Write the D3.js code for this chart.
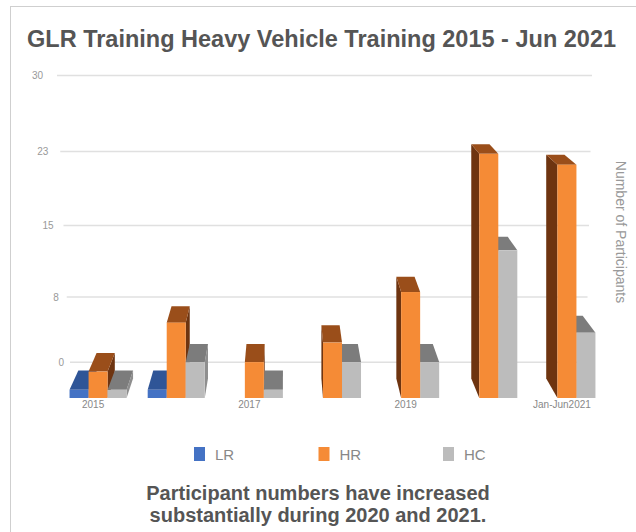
<!DOCTYPE html>
<html>
<head>
<meta charset="utf-8">
<script src="https://cdn.jsdelivr.net/npm/d3@7"></script>
<style>
  html, body { margin: 0; padding: 0; background: #fff; }
  svg { display: block; }
</style>
</head>
<body>
<div id="chart"></div>
<script>
// Data
const categories = ['2015', '2016', '2017', '2018', '2019', '2020', 'Jan-Jun2021']
const seriesNames = ['LR', 'HR', 'HC']
const lrValues = [1, 1, 0, 0, 0, 0, 0]
const hrValues = [3, 8, 4, 6, 11, 24, 23]
const hcValues = [1, 4, 1, 4, 4, 15, 7]
const yTicks = [0, 7.5, 15, 22.5, 30]
const xLabelTicks = ['2015', '2017', '2019', 'Jan-Jun2021']
const titleText = 'GLR Training Heavy Vehicle Training 2015 - Jun 2021'
const axisTitle = 'Number of Participants'
const footerLines = ['Participant numbers have increased', 'substantially during 2020 and 2021.']

// Const variables
const width = 636
const height = 532
const baseY = 398
const vanish = [284, -80]   // perspective vanishing point
const barDepth = 0.041
const wallDepth = 0.075
const fontFamily = 'Liberation Sans, Arial, sans-serif'
const colors = {
  LR: { front: '#4472c4', cap: '#2f5597', side: '#22407a' },
  HR: { front: '#f58b36', cap: '#9a4e1a', side: '#6e3410' },
  HC: { front: '#bcbcbc', cap: '#7c7c7c', side: '#8e8e8e' }
}
const valuesBySeries = { LR: lrValues, HR: hrValues, HC: hcValues }

// Scales
const y = d3.scalePow().exponent(1.07).domain([0, 30]).range([baseY, baseY - 310])
const x0 = d3.scaleBand().domain(categories).range([59, 606]).paddingInner(0.27).paddingOuter(0.135)
const x1 = d3.scaleBand().domain(seriesNames).range([0, x0.bandwidth()])
const gridStart = d3.scaleLinear().domain([0, 30]).range([70, 57])
const gridEnd = d3.scaleLinear().domain([0, 30]).range([586, 592])
const labelRight = d3.scaleLinear().domain([0, 30]).range([64, 43])

const project = (p, k) => [p[0] + k * (vanish[0] - p[0]), p[1] + k * (vanish[1] - p[1])]
const yBack = v => project([0, y(v)], wallDepth)[1]

// Create svg element
const svg = d3.select('#chart')
  .append('svg')
    .attr('width', width)
    .attr('height', height)

// Card
svg.append('rect')
  .attr('x', 10.5)
  .attr('y', 6.5)
  .attr('width', width)
  .attr('height', height)
  .attr('fill', '#fff')
  .attr('stroke', '#cfcfcf')

svg.append('text')
  .attr('x', 27)
  .attr('y', 47)
  .attr('font-family', fontFamily)
  .attr('font-weight', 'bold')
  .attr('font-size', 23.5)
  .attr('fill', '#555')
  .text(titleText)

// Back wall gridlines
svg.selectAll('.grid')
  .data(yTicks)
  .join('line')
    .attr('class', 'grid')
    .attr('x1', d => gridStart(d))
    .attr('x2', d => gridEnd(d))
    .attr('y1', d => yBack(d))
    .attr('y2', d => yBack(d))
    .attr('stroke', '#e0e0e0')
    .attr('stroke-width', 1.5)

svg.selectAll('.ylabel')
  .data(yTicks)
  .join('text')
    .attr('class', 'ylabel')
    .attr('x', d => labelRight(d))
    .attr('y', d => yBack(d) + 3.5)
    .attr('text-anchor', 'end')
    .attr('font-family', fontFamily)
    .attr('font-size', 10)
    .attr('fill', '#999')
    .text(d => d3.format('.0f')(d))

// Bars
const bars = []
categories.forEach((cat, i) => {
  const center = x0(cat) + x0.bandwidth() / 2
  const order = center < vanish[0] ? seriesNames : seriesNames.slice().reverse()
  order.forEach(s => {
    const v = valuesBySeries[s][i]
    if (v > 0) bars.push({ cat, series: s, value: v, leftOfCenter: center < vanish[0] })
  })
})

const barG = svg.append('g')
bars.forEach(d => {
  const x = x0(d.cat) + x1(d.series)
  const w = x1.bandwidth()
  const top = y(d.value)
  const c = colors[d.series]
  const g = barG.append('g').attr('class', 'bar')

  const sx = d.leftOfCenter ? x + w : x
  const side = [[sx, top], [sx, baseY], project([sx, baseY], barDepth), project([sx, top], barDepth)]
  g.append('polygon')
    .attr('points', side.map(p => p.join(',')).join(' '))
    .attr('fill', c.side)

  const cap = [[x, top], [x + w, top], project([x + w, top], barDepth), project([x, top], barDepth)]
  g.append('polygon')
    .attr('points', cap.map(p => p.join(',')).join(' '))
    .attr('fill', c.cap)

  g.append('rect')
    .attr('x', x)
    .attr('y', top)
    .attr('width', w)
    .attr('height', baseY - top)
    .attr('fill', c.front)
})

// X axis
const xAxis = svg.append('g')
  .attr('transform', `translate(-5,${baseY})`)
  .call(d3.axisBottom(x0).tickValues(xLabelTicks).tickSize(0))
xAxis.select('.domain').remove()
xAxis.selectAll('text')
  .attr('font-family', fontFamily)
  .attr('font-size', 10)
  .attr('fill', '#888')

// Right axis title
svg.append('text')
  .attr('transform', 'translate(616,232) rotate(90)')
  .attr('text-anchor', 'middle')
  .attr('font-family', fontFamily)
  .attr('font-size', 14)
  .attr('fill', '#999')
  .text(axisTitle)

// Legend
const legendX = d3.scalePoint().domain(seriesNames).range([194, 443])
const legend = svg.selectAll('.legend')
  .data(seriesNames)
  .join('g')
    .attr('class', 'legend')
    .attr('transform', d => `translate(${legendX(d)},447)`)
legend.append('rect')
  .attr('width', 11)
  .attr('height', 14)
  .attr('fill', d => colors[d].front)
legend.append('text')
  .attr('x', 21)
  .attr('y', 13)
  .attr('font-family', fontFamily)
  .attr('font-size', 15)
  .attr('fill', '#888')
  .text(d => d)

// Footer
svg.selectAll('.footer')
  .data(footerLines)
  .join('text')
    .attr('class', 'footer')
    .attr('x', 318)
    .attr('y', (d, i) => 500 + i * 22)
    .attr('text-anchor', 'middle')
    .attr('font-family', fontFamily)
    .attr('font-weight', 'bold')
    .attr('font-size', 20)
    .attr('fill', '#555')
    .text(d => d)
</script>
</body>
</html>
